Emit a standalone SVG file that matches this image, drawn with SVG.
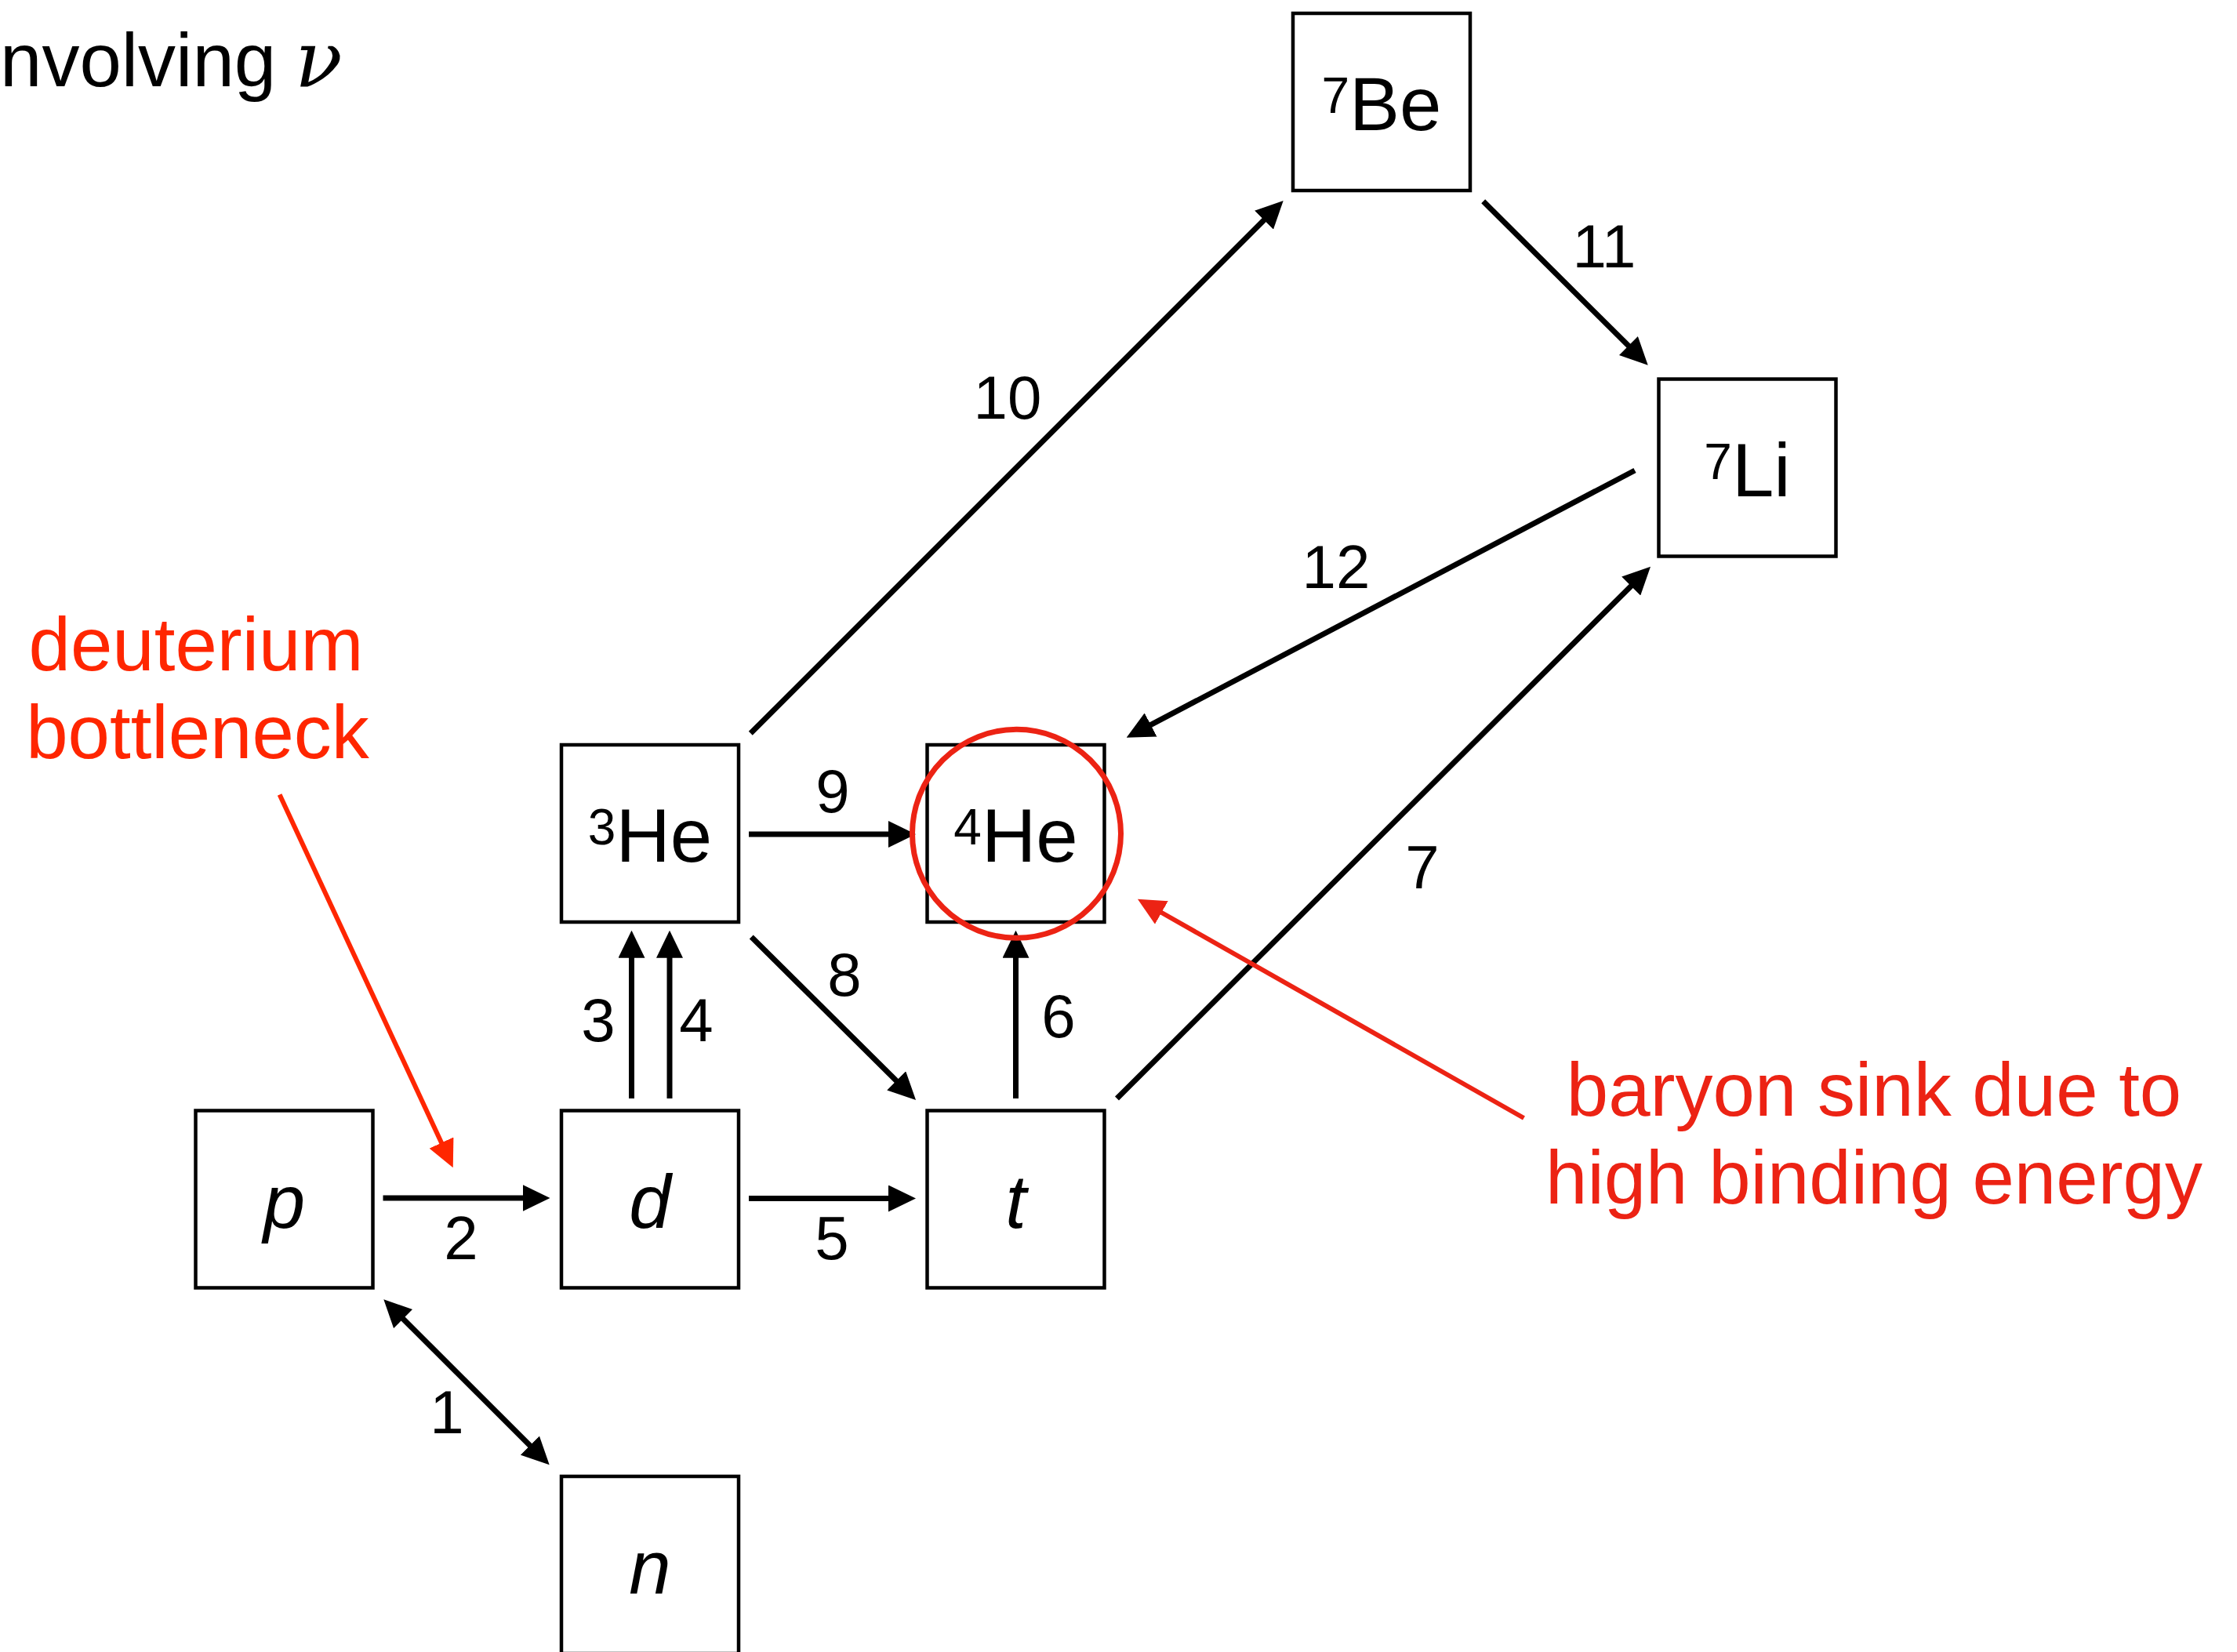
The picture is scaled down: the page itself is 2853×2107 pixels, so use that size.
<svg xmlns="http://www.w3.org/2000/svg" width="2853" height="2107" viewBox="0 0 2853 2107">
<style>
.box{fill:#fff;stroke:#000;stroke-width:4.5}
.nuc{font-family:"Liberation Sans",Arial,sans-serif;font-size:96px;fill:#000;text-anchor:middle}
.it{font-style:italic}
.sup{font-size:64px}
.ln{stroke:#000;stroke-width:7;fill:none;marker-end:url(#ah)}
.lbl{font-family:"Liberation Sans",Arial,sans-serif;font-size:78px;fill:#000;text-anchor:middle}
.red1{fill:#ff2600}
.red2{fill:#ec2314}
.ann{font-family:"Liberation Sans",Arial,sans-serif;font-size:96px;text-anchor:middle}
</style>
<defs>
<marker id="ah" markerUnits="userSpaceOnUse" markerWidth="35" markerHeight="34" viewBox="0 0 35 34" refX="10" refY="17" orient="auto-start-reverse"><path d="M0,0 L35,17 L0,34 z" fill="#000"/></marker>
<marker id="ahr1" markerUnits="userSpaceOnUse" markerWidth="35" markerHeight="34" viewBox="0 0 35 34" refX="10" refY="17" orient="auto"><path d="M0,0 L35,17 L0,34 z" fill="#ff2600"/></marker>
<marker id="ahr2" markerUnits="userSpaceOnUse" markerWidth="35" markerHeight="34" viewBox="0 0 35 34" refX="10" refY="17" orient="auto"><path d="M0,0 L35,17 L0,34 z" fill="#ec2314"/></marker>
</defs>
<rect x="0" y="0" width="2853" height="2107" fill="#fff"/>

<g id="title">
<text x="0" y="110" font-family="Liberation Sans, Arial, sans-serif" font-size="96" fill="#000">nvolving</text>
<text x="376" y="110" font-family="DejaVu Serif, Liberation Serif, serif" font-style="italic" font-size="100" fill="#000">ν</text>
</g>

<g id="connectors">
<line class="ln" x1="507" y1="1675" x2="683" y2="1850.7" marker-start="url(#ah)"/>
<line class="ln" x1="488.5" y1="1528" x2="676.5" y2="1528"/>
<line class="ln" x1="805.5" y1="1401" x2="805.5" y2="1211.7"/>
<line class="ln" x1="854" y1="1401" x2="854" y2="1211.7"/>
<line class="ln" x1="955" y1="1528.5" x2="1143" y2="1528.5"/>
<line class="ln" x1="1295.5" y1="1401" x2="1295.5" y2="1211.7"/>
<line class="ln" x1="1424.5" y1="1401" x2="2087.3" y2="740.4"/>
<line class="ln" x1="958.3" y1="1195" x2="1150.3" y2="1385.4"/>
<line class="ln" x1="955" y1="1064" x2="1143" y2="1064"/>
<line class="ln" x1="957.3" y1="935.3" x2="1619" y2="273.7"/>
<line class="ln" x1="1891.7" y1="256.7" x2="2084" y2="448.1"/>
<line class="ln" x1="2085" y1="600" x2="1458.8" y2="929.1"/>
<g id="connector-labels">
<text class="lbl" x="570" y="1828">1</text>
<text class="lbl" x="588" y="1606">2</text>
<text class="lbl" x="763" y="1328">3</text>
<text class="lbl" x="888" y="1328">4</text>
<text class="lbl" x="1061" y="1606">5</text>
<text class="lbl" x="1350" y="1323">6</text>
<text class="lbl" x="1814" y="1133">7</text>
<text class="lbl" x="1077" y="1270">8</text>
<text class="lbl" x="1062" y="1036">9</text>
<text class="lbl" x="1285" y="534">10</text>
<text class="lbl" x="2046" y="341">11</text>
<text class="lbl" x="1704" y="750">12</text>
</g>
</g>

<g id="node-7Be"><rect class="box" x="1649" y="17" width="226" height="226"/><text class="nuc" x="1762" y="166"><tspan class="sup" dy="-22">7</tspan><tspan dy="22">Be</tspan></text></g>
<g id="node-7Li"><rect class="box" x="2115.5" y="483.5" width="226" height="226"/><text class="nuc" x="2228.5" y="632.5"><tspan class="sup" dy="-22">7</tspan><tspan dy="22">Li</tspan></text></g>
<g id="node-3He"><rect class="box" x="716" y="950" width="226" height="226"/><text class="nuc" x="829" y="1099"><tspan class="sup" dy="-22">3</tspan><tspan dy="22">He</tspan></text></g>
<g id="node-4He"><rect class="box" x="1182.5" y="950" width="226" height="226"/><text class="nuc" x="1295.5" y="1099"><tspan class="sup" dy="-22">4</tspan><tspan dy="22">He</tspan></text></g>
<g id="node-p"><rect class="box" x="249.5" y="1416.5" width="226" height="226"/><text class="nuc it" x="362.5" y="1565.5">p</text></g>
<g id="node-d"><rect class="box" x="716" y="1416.5" width="226" height="226"/><text class="nuc it" x="829" y="1565.5">d</text></g>
<g id="node-t"><rect class="box" x="1182.5" y="1416.5" width="226" height="226"/><text class="nuc it" x="1295.5" y="1565.5">t</text></g>
<g id="node-n"><rect class="box" x="716" y="1883" width="226" height="226"/><text class="nuc it" x="829" y="2032">n</text></g>

<g id="annotations">
<circle cx="1296.5" cy="1063.3" r="133" fill="none" stroke="#ec2314" stroke-width="7"/>
<line x1="356.6" y1="1013.5" x2="567.2" y2="1466.6" stroke="#ff2600" stroke-width="6" marker-end="url(#ahr1)"/>
<line x1="1943.5" y1="1426" x2="1472.7" y2="1159" stroke="#ec2314" stroke-width="6" marker-end="url(#ahr2)"/>
<text class="ann red1" x="250" y="855">deuterium</text>
<text class="ann red1" x="252" y="966.7">bottleneck</text>
<text class="ann red2" x="2390" y="1423">baryon sink due to</text>
<text class="ann red2" x="2390" y="1535">high binding energy</text>
</g>
</svg>
